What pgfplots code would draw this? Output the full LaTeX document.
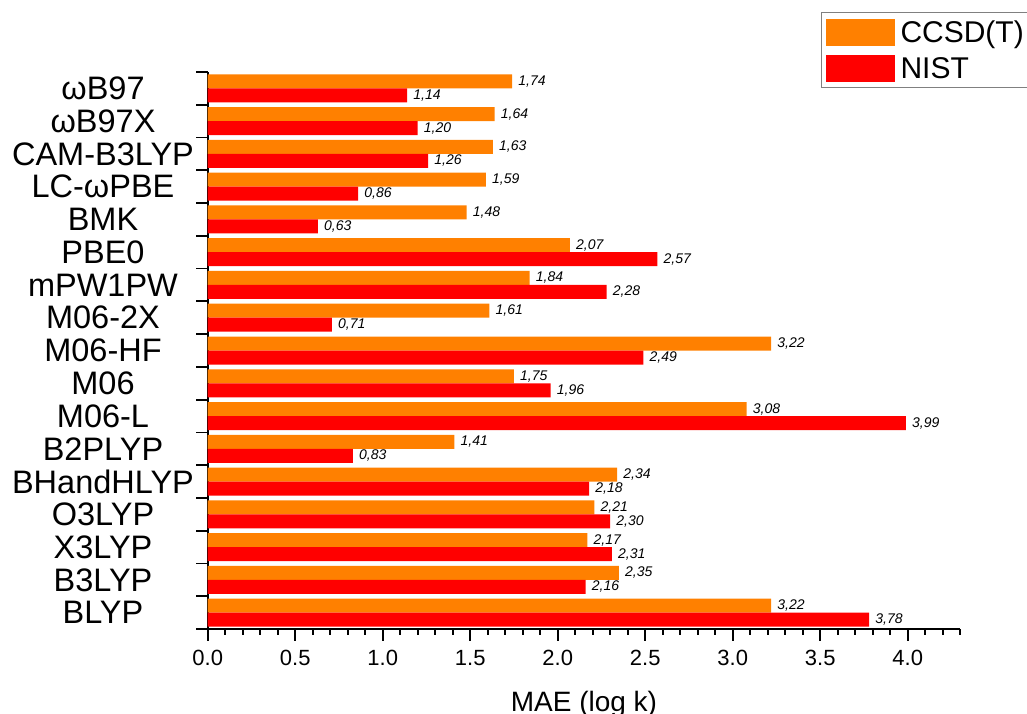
\documentclass[border=0pt]{standalone}
\usepackage{fontspec}
\setmainfont{Liberation Sans}
\usepackage{pgfplots}
\pgfplotsset{compat=1.18}
\definecolor{ccsd}{HTML}{FF8000}
\definecolor{nist}{HTML}{FF0000}
\begin{document}
\begin{tikzpicture}[x=1pt,y=1pt]
\begin{axis}[
  at={(207.7pt,84pt)}, anchor=south west,
  scale only axis, width=752.5pt, height=557pt,
  xmin=0, xmax=4.3, ymin=-0.5, ymax=16.5,
  clip=false,
  axis x line*=bottom, axis y line*=left,
  axis line style={line width=2pt},
  xtick={0,0.5,...,4}, minor xtick={0.1,0.2,...,4.31},
  xtick align=outside, ytick align=center,
  major tick length=11.5pt, minor tick length=5.5pt,
  every tick/.style={black, line width=1.8pt},
  xticklabel style={font=\fontsize{22}{22}\selectfont, yshift=-6pt},
  /pgf/number format/.cd, fixed, fixed zerofill, precision=1, assume math mode=true,
  /pgfplots/.cd,
  ytick={-0.5,0.5,...,16.5},
  y tick label as interval,
  yticklabels={BLYP,B3LYP,X3LYP,O3LYP,BHandHLYP,B2PLYP,M06-L,M06,M06-HF,M06-2X,mPW1PW,PBE0,BMK,LC-ωPBE,CAM-B3LYP,ωB97X,ωB97},
  yticklabel style={font=\fontsize{32.5}{33}\selectfont, text width=190pt, align=center, inner sep=0pt, anchor=east, xshift=2pt},
  xlabel={MAE (log k)},
  xlabel style={font=\fontsize{28}{28}\selectfont, at={(axis description cs:0.5,0)}, anchor=base, yshift=-82pt},
  xbar, bar width=14pt,
  point meta=x,
  nodes near coords={\pgfmathprintnumber[fixed,fixed zerofill,precision=2,use comma,assume math mode=true]{\pgfplotspointmeta}},
  nodes near coords style={font=\fontsize{14}{14}\selectfont\itshape, anchor=west, inner sep=2pt, xshift=4pt},
  legend style={at={(axis description cs:0.815,1.107)}, anchor=north west, draw=gray, line width=1pt,
    font=\fontsize{30}{30}\selectfont, inner xsep=5pt, inner ysep=6pt, row sep=9pt, column sep=4pt},
  legend cell align=left,
  legend image code/.code={\fill[#1] (0pt,-13.3pt) rectangle (68pt,13.3pt);},
]
\addplot[fill=ccsd, draw=none, bar shift=7pt] coordinates {
(3.22,0) (2.35,1) (2.17,2) (2.21,3) (2.34,4) (1.41,5) (3.08,6) (1.75,7) (3.22,8) (1.61,9)
(1.84,10) (2.07,11) (1.48,12) (1.59,13) (1.63,14) (1.64,15) (1.74,16)};
\addplot[fill=nist, draw=none, bar shift=-7pt] coordinates {
(3.78,0) (2.16,1) (2.31,2) (2.30,3) (2.18,4) (0.83,5) (3.99,6) (1.96,7) (2.49,8) (0.71,9)
(2.28,10) (2.57,11) (0.63,12) (0.86,13) (1.26,14) (1.20,15) (1.14,16)};
\legend{CCSD(T),NIST}
\end{axis}
\pgfresetboundingbox
\useasboundingbox (0,0) rectangle (1027,713);
\end{tikzpicture}
\end{document}
